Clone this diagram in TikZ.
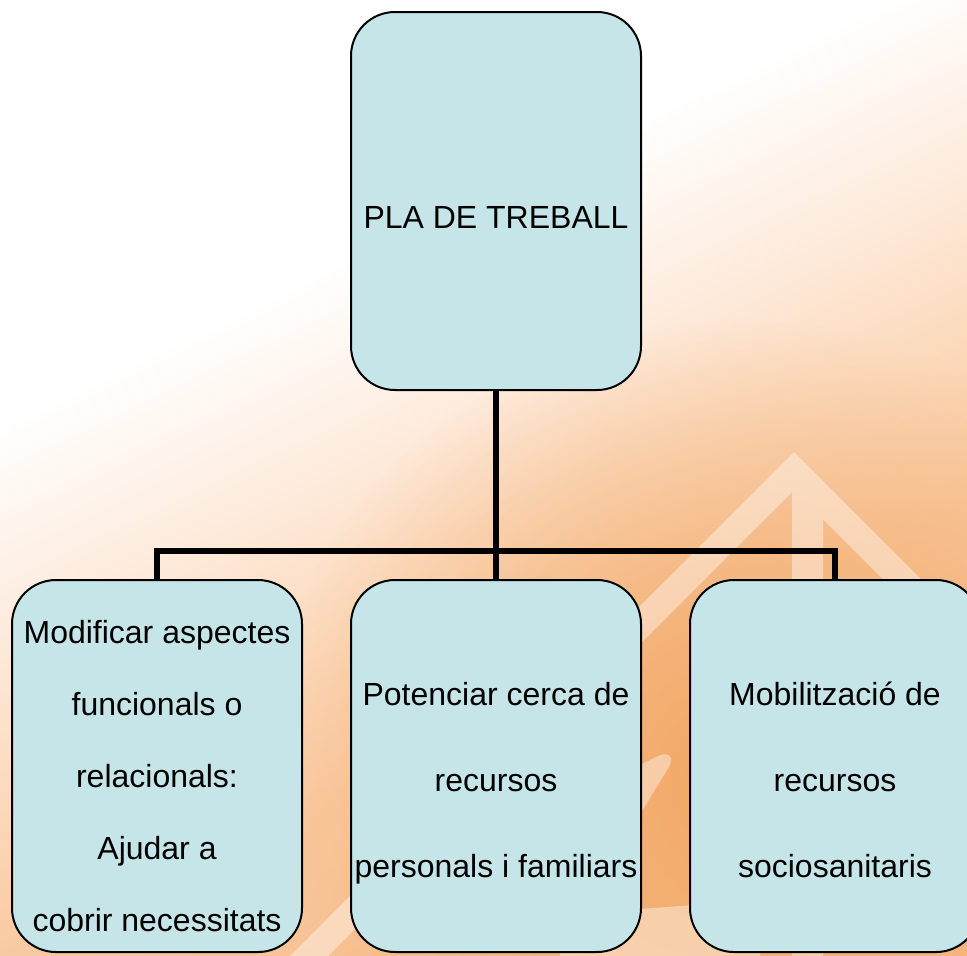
\documentclass[tikz,border=0pt]{standalone}
\usepackage{fontspec}
\setmainfont{Liberation Sans}
\usetikzlibrary{fadings}
\definecolor{boxfill}{RGB}{197,229,232}
\definecolor{pch0}{RGB}{254,236,222}
\definecolor{pchA}{RGB}{252,220,192}
\definecolor{pchB}{RGB}{249,201,160}
\definecolor{pchC}{RGB}{247,190,141}
\definecolor{orng}{RGB}{242,166,99}
\pgfdeclareverticalshading{bgsh}{100bp}{color(0bp)=(pchC); color(33.5bp)=(pchC); color(41.7bp)=(pchB); color(47.8bp)=(pchA); color(52.8bp)=(pch0); color(59.2bp)=(white); color(100bp)=(white)}
\tikzfading[name=glowfade, inner color=transparent!5, outer color=transparent!100]
\tikzset{
  box/.style={draw=black, line width=1pt, fill=boxfill, rounded corners=22pt, inner sep=0pt},
  topbox/.style={box, minimum width=145pt, minimum height=189pt},
  lowbox/.style={box, minimum width=145pt, minimum height=186pt},
  conn/.style={draw=black, line width=2.8pt},
  txt/.style={align=center, anchor=base, inner sep=0pt, text=black},
  wmark/.style={fill=white, fill opacity=0.4}
}
\begin{document}
\begin{tikzpicture}[x=0.5pt, y=-0.5pt]
\useasboundingbox (0,0) rectangle (967,955);
% background
\begin{scope}
  \clip (0,0) rectangle (967,955);
  \begin{scope}[transform canvas={rotate around={25.5:(483.5,477.5)}}]
    \shade[shading=bgsh] (-316.5,-222.5) rectangle (1283.5,1177.5);
  \end{scope}
  \fill[orng, path fading=glowfade] (745,770) ellipse [x radius=480, y radius=450];
  % watermark house
  \path[wmark] (194,1052) -- (794,452) -- (1094,752) -- (1094,790) -- (794,490) -- (194,1090) -- cycle
               (792,488) -- (823,488) -- (823,1000) -- (792,1000) -- cycle;
  \path[wmark] (600,785) -- (658,756) .. controls (672,750) and (674,760) .. (667,770) -- (600,880) -- cycle;
  \path[wmark] (560,915) -- (760,900) -- (760,960) -- (560,960) -- cycle;
\end{scope}
% boxes
\node[topbox] (top) at (496,201) {};
\node[lowbox] (bl) at (157,766) {};
\node[lowbox] (bm) at (496,766) {};
\node[lowbox] (br) at (835,766) {};
% connectors
\coordinate (jn) at (496,551);
\draw[conn] (top.south) -- (jn);
\draw[conn] (bl.north) |- (jn) -| (br.north);
\draw[conn] (jn) -- (bm.north);
% texts
\node[txt, font=\fontsize{16}{19}\selectfont] (ttop) at (496,228) {PLA DE TREBALL};
\node[txt, font=\fontsize{16}{36}\selectfont] (tl) at (157,931) {Modificar aspectes\\funcionals o\\relacionals:\\Ajudar a\\cobrir necessitats};
\node[txt, font=\fontsize{16}{43}\selectfont] (tm) at (496,877) {Potenciar cerca de\\recursos\\personals i familiars};
\node[txt, font=\fontsize{16}{43}\selectfont] (tr) at (835,877) {Mobilització de\\recursos\\sociosanitaris};
\end{tikzpicture}
\end{document}
